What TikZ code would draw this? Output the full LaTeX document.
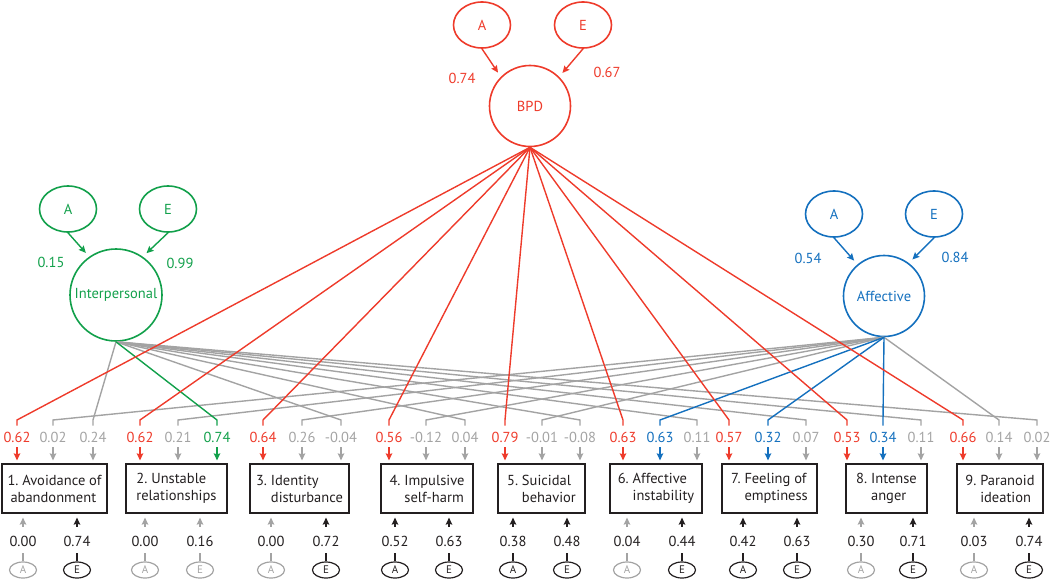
\documentclass[tikz,border=0pt]{standalone}
\usepackage{fontspec}
\setmainfont{PT Sans}
\usetikzlibrary{arrows.meta,positioning,shapes.geometric,calc}
\definecolor{twRed}{HTML}{EE3B2B}
\definecolor{twGreen}{HTML}{12A04B}
\definecolor{twBlue}{HTML}{1470BE}
\definecolor{twGray}{HTML}{A3A3A3}
\definecolor{twInk}{HTML}{231F20}
\tikzset{
  tw-text/.style={font=\fontsize{14.5}{17}\selectfont\frenchspacing},
  tw-latent/.style={circle, draw, line width=1.6pt, inner sep=0pt, tw-text},
  tw-gen/.style={ellipse, draw, line width=1.6pt, minimum width=57pt,
    minimum height=46pt, inner sep=0pt, tw-text},
  tw-small/.style={ellipse, draw, line width=1.2pt, minimum width=27pt,
    minimum height=16pt, inner sep=0pt, font=\fontsize{11}{12}\selectfont},
  tw-item/.style={draw=twInk, line width=1.2pt, minimum height=49pt,
    inner sep=0pt, align=left, tw-text, text=twInk},
  tw-load/.style={tw-text, inner sep=3pt},
  tw-path/.style={line width=1.4pt},
  tw-arrow/.style={-{Stealth[length=7pt,width=6.5pt,inset=1pt]}, line width=1.4pt}
}
\begin{document}
\begin{tikzpicture}[x=1pt, y=-1pt]
\useasboundingbox (0,0) rectangle (1050,583);
% Latent factors
\node[tw-latent, draw=twRed, text=twRed, minimum size=81pt] (bpd) at (530,106) {BPD};
\node[tw-latent, draw=twGreen, text=twGreen, minimum size=92pt] (inter) at (116,295) {Interpersonal};
\node[tw-latent, draw=twBlue, text=twBlue, minimum size=81pt] (aff) at (884,296) {Affective};
% A and E of each factor
\foreach \f/\c/\ax/\ex/\y/\wa/\wax/\way/\we/\wex/\wey/\ta/\te in {
    bpd/twRed/482/583/25/0.74/462/78/0.67/607/72/135/45,
    inter/twGreen/68/168/209/0.15/51/262/0.99/180/263/125/55,
    aff/twBlue/834/934/214/0.54/808/258/0.84/955/257/130/53}{
  \node[tw-gen, draw=\c, text=\c] (\f A) at (\ax,\y) {A};
  \node[tw-gen, draw=\c, text=\c] (\f E) at (\ex,\y) {E};
  \draw[tw-arrow, draw=\c, shorten >=5pt] (\f A.south) -- (\f.\ta);
  \draw[tw-arrow, draw=\c, shorten >=5pt] (\f E.south) -- (\f.\te);
  \node[tw-load, text=\c] (\f wa) at (\wax,\way) {\wa};
  \node[tw-load, text=\c] (\f we) at (\wex,\wey) {\we};
}
% Criteria
\foreach \i/\cx/\w/\txt in {
    1/54.5/105/{1.~Avoidance of\\\hspace{3pt}abandonment},
    2/176.5/101/{2.~Unstable\\relationships},
    3/299.5/99/{3.~Identity\\\phantom{3.}~disturbance},
    4/427/92/{4.~Impulsive\\\phantom{4.}~self-harm},
    5/541.5/87/{5.~Suicidal\\\phantom{5.}~behavior},
    6/656/92/{6.~Affective\\\phantom{6.}~instability},
    7/769.5/95/{7.~Feeling of\\\phantom{7.}~emptiness},
    8/886.5/81/{8.~Intense\\\phantom{8.}~anger},
    9/1000/86/{9.~Paranoid\\\phantom{9.}~ideation}}{
  \node[tw-item, minimum width=\w pt] (b\i) at (\cx,488.5) {\txt};
}
% Loadings (gray ones first)
\foreach \i/\p/\x/\v/\c/\src in {
    1/m/53/0.02/twGray/aff, 1/n/93/0.24/twGray/inter,
    2/m/178/0.21/twGray/aff,
    3/m/302/0.26/twGray/aff, 3/n/341/-0.04/twGray/inter,
    4/m/426/-0.12/twGray/aff, 4/n/465/0.04/twGray/inter,
    5/m/542/-0.01/twGray/aff, 5/n/580/-0.08/twGray/inter,
    6/n/697/0.11/twGray/inter,
    7/n/806/0.07/twGray/inter,
    8/n/921/0.11/twGray/inter,
    9/m/999/0.14/twGray/aff, 9/n/1037/0.02/twGray/inter,
    2/n/217/0.74/twGreen/inter,
    6/m/660/0.63/twBlue/aff, 7/m/768/0.32/twBlue/aff, 8/m/883/0.34/twBlue/aff,
    1/r/17/0.62/twRed/bpd, 2/r/140/0.62/twRed/bpd, 3/r/263/0.64/twRed/bpd,
    4/r/389/0.56/twRed/bpd, 5/r/505/0.79/twRed/bpd, 6/r/623/0.63/twRed/bpd,
    7/r/729/0.57/twRed/bpd, 8/r/847/0.53/twRed/bpd, 9/r/963/0.66/twRed/bpd}{
  \node[tw-load, text=\c] (l\i\p) at (\x,437) {\v};
  \coordinate (k\i\p) at (\x,420);
  \draw[tw-path, draw=\c, shorten >=3pt] (\src.south) -- (k\i\p) -- (l\i\p.north);
  \draw[tw-arrow, draw=\c, shorten <=2pt, shorten >=3pt] (l\i\p.south) -- (l\i\p.south |- b\i.north);
}
% A and E of each criterion
\foreach \i/\p/\x/\v/\c in {
    1/A/23/0.00/twGray, 1/E/77/0.74/twInk,
    2/A/145/0.00/twGray, 2/E/200/0.16/twGray,
    3/A/271/0.00/twGray, 3/E/326/0.72/twInk,
    4/A/395/0.52/twInk, 4/E/449/0.63/twInk,
    5/A/513/0.38/twInk, 5/E/567/0.48/twInk,
    6/A/627/0.04/twGray, 6/E/682/0.44/twInk,
    7/A/743/0.42/twInk, 7/E/797/0.63/twInk,
    8/A/861/0.30/twGray, 8/E/913/0.71/twInk,
    9/A/974/0.03/twGray, 9/E/1029/0.74/twInk}{
  \node[tw-load, text=twInk] (u\i\p) at (\x,541) {\v};
  \node[tw-small, draw=\c, text=\c] (s\i\p) at (\x,570) {\p};
  \draw[tw-arrow, draw=\c, shorten <=6pt, shorten >=4pt] (u\i\p.north) -- (u\i\p.north |- b\i.south);
  \draw[tw-path, draw=\c, line width=1.2pt, shorten >=4pt] (s\i\p) -- (u\i\p);
}
\end{tikzpicture}
\end{document}
